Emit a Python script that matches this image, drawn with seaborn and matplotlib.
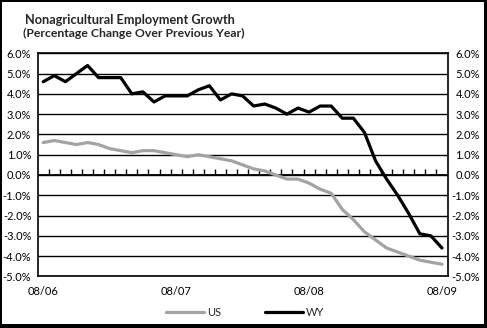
import matplotlib
matplotlib.use("Agg")
import matplotlib.pyplot as plt
from matplotlib.patches import Rectangle
from matplotlib.ticker import FixedLocator, FuncFormatter
import numpy as np
import pandas as pd
import seaborn as sns

# Monthly categories, Aug 2006 through Aug 2009
months = [p.strftime("%m/%y") for p in pd.period_range("2006-08", "2009-08", freq="M")]
tick_labels = ["08/06", "08/07", "08/08", "08/09"]

# Year-over-year change in nonfarm employment (%)
us = [1.6, 1.7, 1.6, 1.5, 1.6, 1.5, 1.3, 1.2, 1.1, 1.2, 1.2, 1.1, 1.0,
      0.9, 1.0, 0.9, 0.8, 0.7, 0.5, 0.3, 0.2, 0.0, -0.2, -0.2, -0.4,
      -0.7, -0.9, -1.7, -2.2, -2.8, -3.2, -3.6, -3.8, -4.0, -4.2, -4.3, -4.4]
wy = [4.6, 4.9, 4.6, 5.0, 5.4, 4.8, 4.8, 4.8, 4.0, 4.1, 3.6, 3.9, 3.9,
      3.9, 4.2, 4.4, 3.7, 4.0, 3.9, 3.4, 3.5, 3.3, 3.0, 3.3, 3.1,
      3.4, 3.4, 2.8, 2.8, 2.1, 0.7, -0.2, -1.0, -1.9, -2.9, -3.0, -3.6]

df = pd.DataFrame({
    "month": months * 2,
    "pos": list(range(len(months))) * 2,
    "value": us + wy,
    "series": ["US"] * len(us) + ["WY"] * len(wy),
})

sns.set_theme(style="white")
plt.rcParams["font.family"] = ["Lato", "DejaVu Sans"]

W, H = 487, 328
fig = plt.figure(figsize=(W / 100, H / 100), dpi=100)
ax = fig.add_axes([37.7 / W, 1 - 276.4 / H, (447.5 - 37.7) / W, (276.4 - 53.3) / H])

palette = {"US": "#a3a3a3", "WY": "#000000"}
sns.lineplot(data=df, x="pos", y="value", hue="series", palette=palette,
             linewidth=2.3, ax=ax, legend=False, zorder=3)

ax.set_xlim(-0.5, len(months) - 0.5)
ax.set_ylim(-5, 6)

# horizontal gridlines at each whole percent
yt = np.arange(-5, 7)
ax.yaxis.set_major_locator(FixedLocator(yt))
ax.grid(axis="y", color="black", linewidth=1.0)
ax.grid(axis="x", visible=False)
ax.axhline(0, color="black", linewidth=1.3, zorder=2)

pct = FuncFormatter(lambda v, _: f"{v:.1f}%")
ax.yaxis.set_major_formatter(pct)
ax.tick_params(axis="y", length=0, labelsize=8, pad=4.6, colors="black")

# x tick labels every twelve months
ax.set_xticks([months.index(t) for t in tick_labels])
ax.set_xticklabels(tick_labels)
ax.tick_params(axis="x", length=0, labelsize=8, pad=7, colors="black")
ax.set_xlabel("")
ax.set_ylabel("")

for s in ax.spines.values():
    s.set_visible(True)
    s.set_color("black")
    s.set_linewidth(1.2)

# right-hand percentage scale
ax2 = ax.twinx()
ax2.set_ylim(ax.get_ylim())
ax2.yaxis.set_major_locator(FixedLocator(yt))
ax2.yaxis.set_major_formatter(pct)
ax2.tick_params(axis="y", length=0, labelsize=8, pad=23.4, colors="black")
for lbl in ax2.get_yticklabels():
    lbl.set_horizontalalignment("right")
ax2.grid(False)
for s in ax2.spines.values():
    s.set_visible(False)

# category separators along the zero line
sec = ax.secondary_xaxis(5 / 11)
sec.set_xticks(np.arange(0.5, len(months) - 1, 1.0))
sec.tick_params(axis="x", direction="in", length=4.5, width=1.0, color="black",
                labelbottom=False, labeltop=False)
sec.spines["bottom"].set_visible(False)
sec.spines["top"].set_visible(False)

fig.text(25 / W, 1 - 20 / H, "Nonagricultural Employment Growth",
         fontsize=9.2, fontweight="bold", ha="left", va="center")
fig.text(23 / W, 1 - 33.5 / H, "(Percentage Change Over Previous Year)",
         fontsize=8.8, fontweight="bold", ha="left", va="center")

handles = [plt.Line2D([], [], color=palette[k], linewidth=2.3) for k in ["US", "WY"]]
fig.legend(handles, ["US", "WY"], loc="center", bbox_to_anchor=(0.504, 1 - 312 / H),
           ncol=2, frameon=False, fontsize=8, handlelength=3.4,
           handletextpad=0.3, columnspacing=3.9)

# outer frame with heavier right and bottom edges
fig.add_artist(Rectangle((0, 0), 1, 1, transform=fig.transFigure, fill=False,
                         edgecolor="black", linewidth=2.9))
fig.add_artist(Rectangle((1 - 3 / W, 0), 3 / W, 1, transform=fig.transFigure,
                         color="black", linewidth=0))
fig.add_artist(Rectangle((0, 0), 1, 4 / H, transform=fig.transFigure,
                         color="black", linewidth=0))

fig.savefig("out.png", dpi=100)
